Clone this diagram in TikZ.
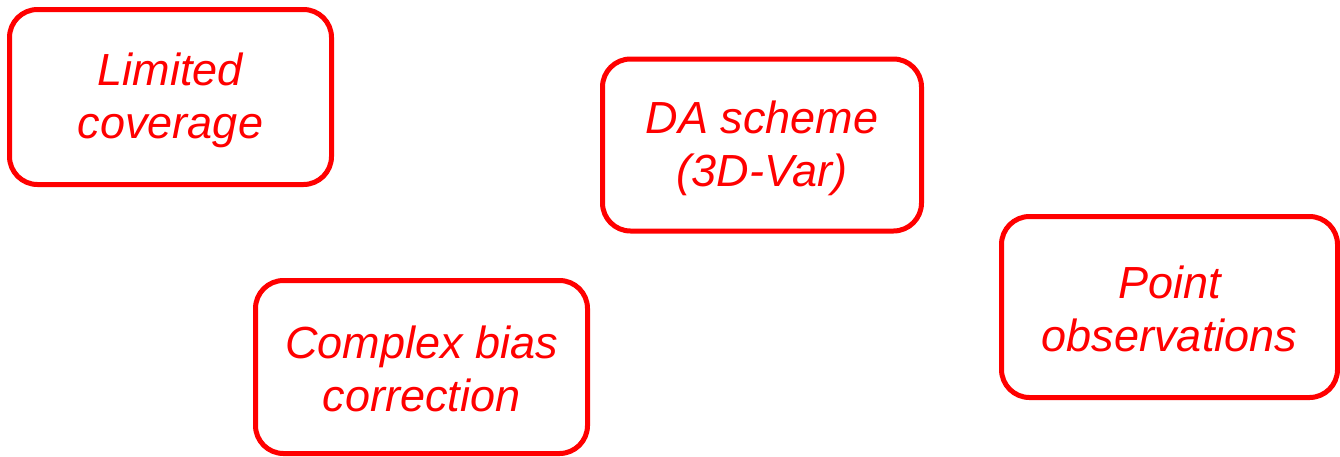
\documentclass[tikz,border=0pt]{standalone}
\usepackage{fontspec}
\setmainfont{Liberation Sans}
\newcommand\bxs{\rule[-3pt]{0pt}{41.5pt}}
\begin{document}
\begin{tikzpicture}[x=1pt,y=-1pt,
  box/.style={draw=red, line width=5pt, rounded corners=28pt, inner sep=0pt,
    font=\fontsize{45}{53}\selectfont\itshape, text=red, align=center}]
\useasboundingbox (0,0) rectangle (1340,456);
\node[box, minimum width=322pt, minimum height=175pt] (lim) at (170.5,97) {\bxs Limited\\\bxs coverage};
\node[box, minimum width=319pt, minimum height=172pt] (da) at (762,145) {\bxs DA scheme\\\bxs (3D-Var)};
\node[box, minimum width=336pt, minimum height=181pt] (pt) at (1169.5,307) {\bxs Point\\\bxs observations};
\node[box, minimum width=332pt, minimum height=173pt] (cb) at (421.5,367) {\bxs Complex bias\\\bxs correction};
\end{tikzpicture}
\end{document}
